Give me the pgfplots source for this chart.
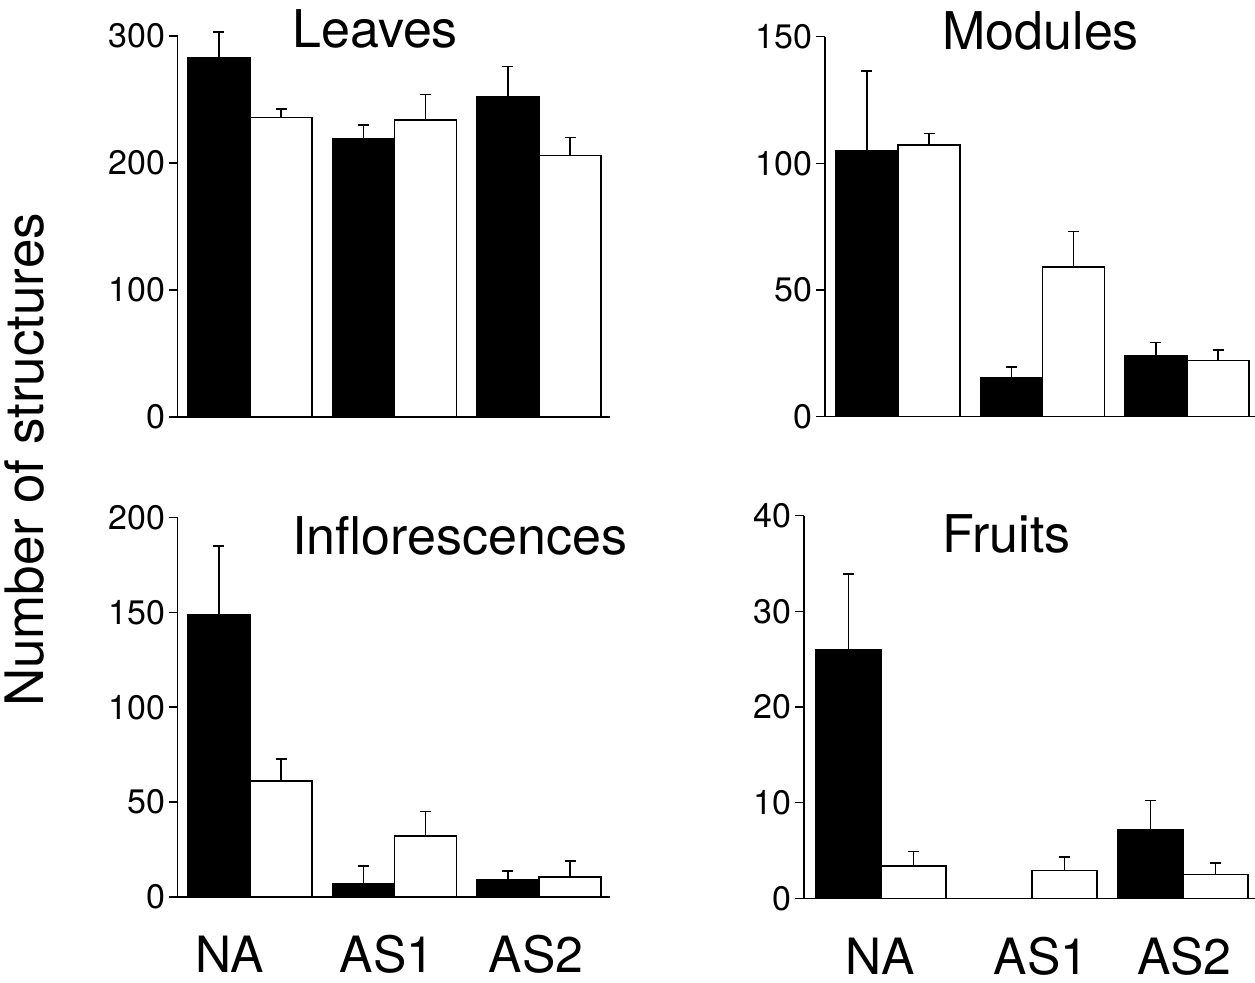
\documentclass[border=0pt]{standalone}
\usepackage{fontspec}
\setmainfont{TeX Gyre Heros}
\usepackage{pgfplots}
\pgfplotsset{compat=1.18}
\pgfplotsset{
  panel/.style={
    scale only axis, anchor=south west,
    axis x line=bottom, axis y line=left,
    axis line style={-, line width=0.75pt},
    tick align=outside,
    major tick length=4.5pt,
    ytick style={line width=0.75pt, black},
    xtick style={draw=none},
    enlargelimits=false, clip=false,
    ybar, bar width=0.43, bar shift=0pt,
    /pgf/number format/assume math mode=true,
    yticklabel style={font=\fontsize{17pt}{20pt}\selectfont, inner sep=1.5pt},
    xticklabel style={font=\fontsize{25pt}{29pt}\selectfont, anchor=base, inner sep=0pt, yshift=-33.5pt},
    ymin=0,
  },
  blk/.style={fill=black, draw=black, line width=0.75pt,
    error bars/.cd, y dir=plus, y explicit,
    error bar style={line width=0.7pt, black},
    error mark options={rotate=90, black, line width=0.7pt, mark size=2.75pt}},
  wht/.style={fill=white, draw=black, line width=0.75pt,
    error bars/.cd, y dir=plus, y explicit,
    error bar style={line width=0.7pt, black},
    error mark options={rotate=90, black, line width=0.7pt, mark size=2.75pt}},
}
\begin{document}
\begin{tikzpicture}
\useasboundingbox (0,0) rectangle (627.5pt,491.5pt);
% Leaves
\begin{axis}[panel, at={(88.875pt,283pt)}, width=216.05pt, height=190.5pt,
  xmin=-0.5, xmax=2.49, ymax=300, ytick={0,100,200,300}, xtick=\empty]
\addplot[blk] table[x=x, y=y, y error=e, row sep=\\] {x y e\\ -0.215 283 20\\ 0.785 219 11\\ 1.785 252 24\\};
\addplot[wht] table[x=x, y=y, y error=e, row sep=\\] {x y e\\ 0.215 236 6.5\\ 1.215 234 20\\ 2.215 206 14\\};
\end{axis}
% Modules
\begin{axis}[panel, at={(412.5pt,283.15pt)}, width=214.95pt, height=190pt,
  xmin=-0.505, xmax=2.47, ymax=150, ytick={0,50,100,150}, xtick=\empty]
\addplot[blk] table[x=x, y=y, y error=e, row sep=\\] {x y e\\ -0.215 105 31.5\\ 0.785 15.2 4.4\\ 1.785 24.1 5.3\\};
\addplot[wht] table[x=x, y=y, y error=e, row sep=\\] {x y e\\ 0.215 107.3 4.6\\ 1.215 59 14.2\\ 2.215 22.2 4.1\\};
\end{axis}
% Inflorescences
\begin{axis}[panel, at={(88.875pt,43pt)}, width=216.05pt, height=189.75pt,
  xmin=-0.5, xmax=2.49, ymax=200, ytick={0,50,100,150,200},
  xtick={-0.142,0.948,1.98}, xticklabels={NA,AS1,AS2}]
\addplot[blk] table[x=x, y=y, y error=e, row sep=\\] {x y e\\ -0.215 149 36\\ 0.785 7 9.3\\ 1.785 8.9 4.8\\};
\addplot[wht] table[x=x, y=y, y error=e, row sep=\\] {x y e\\ 0.215 61 11.8\\ 1.215 32.1 12.9\\ 2.215 10.5 8.4\\};
\end{axis}
% Fruits
\begin{axis}[panel, at={(402pt,42.35pt)}, width=225.5pt, height=191.3pt,
  xmin=-0.51, xmax=2.477, ymax=40, ytick={0,10,20,30,40},
  xtick={-0.007,1.06,2.01}, xticklabels={NA,AS1,AS2}]
\addplot[blk] table[x=x, y=y, y error=e, row sep=\\] {x y e\\ -0.215 26 7.9\\ 1.785 7.2 3.0\\};
\addplot[wht] table[x=x, y=y, y error=e, row sep=\\] {x y e\\ 0.215 3.4 1.5\\ 1.215 2.9 1.4\\ 2.215 2.5 1.2\\};
\end{axis}
\begin{scope}[every node/.style={inner sep=0pt, font=\fontsize{26pt}{30pt}\selectfont}]
\node[anchor=base west] at (146pt,467.5pt) {Leaves};
\node[anchor=base west] at (471pt,466.5pt) {Modules};
\node[anchor=base west] at (146pt,214pt) {Inflorescences};
\node[anchor=base west] at (471pt,215pt) {Fruits};
\end{scope}
\node[rotate=90, anchor=base, inner sep=0pt, font=\fontsize{26.5pt}{30pt}\selectfont] at (21.5pt,261.5pt) {Number of structures};
\end{tikzpicture}
\end{document}
